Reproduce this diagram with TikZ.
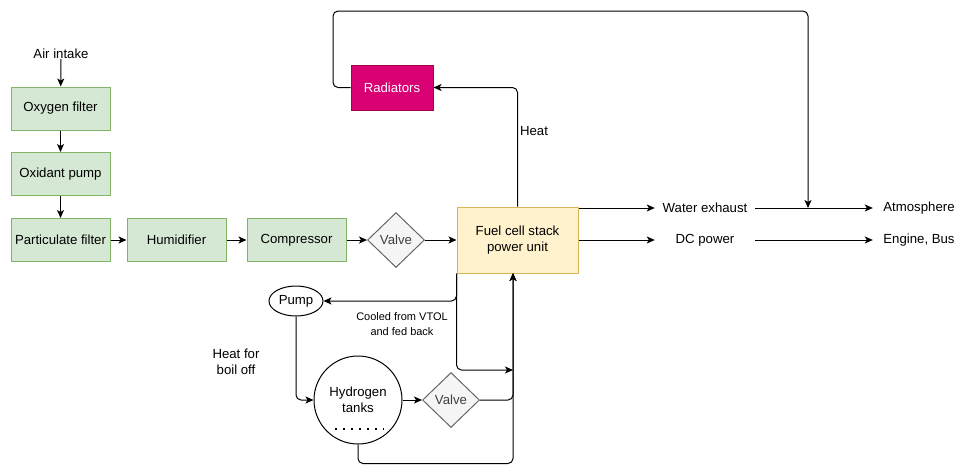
\documentclass[tikz,border=0pt]{standalone}
\usepackage{fontspec}
\setmainfont{Liberation Sans}
\usepackage{xcolor}
\usepackage{tikz}
\usetikzlibrary{arrows.meta, shapes.geometric}

\definecolor{boxgreen}{HTML}{D5E8D4}
\definecolor{edgegreen}{HTML}{82B366}
\definecolor{boxyellow}{HTML}{FFF2CC}
\definecolor{edgeyellow}{HTML}{D6B656}
\definecolor{radfill}{HTML}{D80073}
\definecolor{radedge}{HTML}{A50040}
\definecolor{valvefill}{HTML}{F5F5F5}
\definecolor{valveedge}{HTML}{666666}

\tikzset{
    flow/.style={line width=1pt, -{Stealth[length=8pt, width=7pt, inset=2pt]}, rounded corners=5pt},
    greenbox/.style={draw=edgegreen, fill=boxgreen, line width=1pt, minimum width=99pt, minimum height=43pt, inner sep=0pt},
    valvebox/.style={diamond, draw=valveedge, fill=valvefill, line width=1pt, minimum width=57pt, minimum height=55pt, inner sep=0pt, text=black!75},
    label/.style={inner sep=0pt, align=center}
}

\begin{document}
\begin{tikzpicture}[x=1pt, y=-1pt, font=\fontsize{13.2}{16}\selectfont]

    \useasboundingbox (0,0) rectangle (955,464);

    % air side
    \node[label] (air) at (61,54) {Air intake};
    \node[greenbox] (oxy) at (60.5,108.5) {Oxygen filter};
    \node[greenbox] (oxid) at (60.5,174) {Oxidant pump};
    \node[greenbox] (part) at (60.5,240) {Particulate filter};
    \node[greenbox] (hum) at (176.5,240) {Humidifier};
    \node[greenbox] (comp) at (296.5,240) {Compressor};
    \node[valvebox] (valveA) at (396,240) {Valve};

    % stack and outputs
    \node[draw=edgeyellow, fill=boxyellow, line width=1pt, minimum width=121pt, minimum height=66pt, align=center] (fc) at (517.5,240) {Fuel cell stack\\power unit};
    \node[label, minimum width=100pt] (water) at (705,208) {Water exhaust};
    \node[label, minimum width=100pt] (dc) at (705,240) {DC power};
    \node[label, minimum width=92pt] (atm) at (919,208) {Atmosphere};
    \node[label, minimum width=92pt] (eng) at (919,240) {Engine, Bus};
    \node[draw=radedge, fill=radfill, line width=1pt, minimum width=82pt, minimum height=45pt, text=white] (rad) at (392,87.5) {Radiators};

    % hydrogen loop
    \node[draw, ellipse, line width=1pt, minimum width=54pt, minimum height=30pt, inner sep=0pt] (pump) at (296,301) {Pump};
    \node[draw, circle, line width=1pt, minimum size=88pt, inner sep=0pt, align=center] (tanks) at (358,400) {Hydrogen\\tanks};
    \node[valvebox] (valveB) at (451,400) {Valve};

    \coordinate (mix) at (808,208);
    \coordinate (fcin) at (513,273);
    \coordinate (feed) at (513,370);

    \draw[flow] (air) -- (oxy);
    \draw[flow] (oxy) -- (oxid);
    \draw[flow] (oxid) -- (part);
    \draw[flow] (part) -- (hum);
    \draw[flow] (hum) -- (comp);
    \draw[flow] (comp) -- (valveA);
    \draw[flow] (valveA) -- (fc);

    \draw[flow] (fc.east |- water) -- (water.west);
    \draw[flow] (fc.east |- dc) -- (dc.west);
    \draw[flow] (water.east) -- (atm.west);
    \draw[flow] (dc.east) -- (eng.west);

    \draw[flow] (fc.north) |- (rad.east);
    \node[label] (heat) at (534,131) {Heat};
    \draw[flow] (rad.west) -- (333,87.5) -- (333,11) -- (808,11) -- (mix);

    \draw[flow] (fc.south west) |- (pump.east);
    \draw[flow] (fc.south west) |- (feed);
    \draw[flow] (pump.south) |- (tanks.west);
    \draw[flow] (tanks.east) -- (valveB.west);
    \draw[flow] (valveB.east) -| (fcin);
    \draw[flow] (tanks.south) -- ++(0,19) -| (fcin);

    \draw[line width=1.5pt, dash pattern=on 1.5pt off 6.5pt] (335,429) -- (384,429);

    \node[label, font=\fontsize{11}{15}\selectfont] (cooled) at (402,324.5) {Cooled from VTOL\\and fed back};
    \node[label] (boil) at (236,362) {Heat for\\boil off};

\end{tikzpicture}
\end{document}
